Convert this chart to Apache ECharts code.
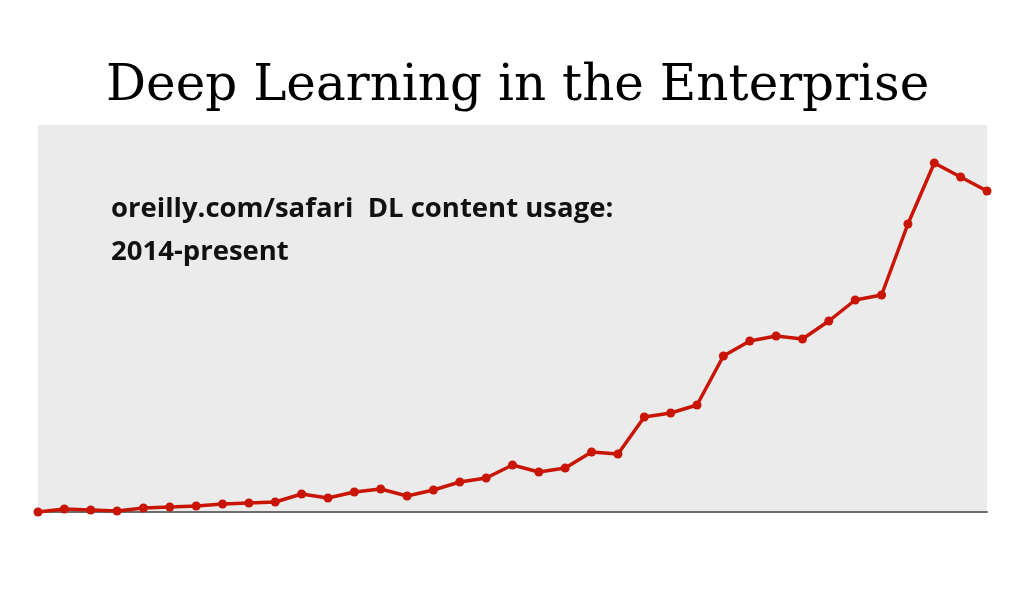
<!DOCTYPE html>
<html>
<head>
<meta charset="utf-8">
<script src="https://cdn.jsdelivr.net/npm/echarts@6/dist/echarts.min.js"></script>
<style>html,body{margin:0;padding:0;background:#fff;}#c{width:1024px;height:592px;}</style>
</head>
<body>
<div id="c"></div>
<script>
const titleText = 'Deep Learning in the Enterprise';
const noteText = 'oreilly.com/safari  DL content usage:\n2014-present';
const months = [];
for (let y = 2014; y <= 2017; y++) {
  for (let m = 1; m <= 12; m++) {
    if (months.length < 37) months.push(y + '-' + String(m).padStart(2, '0'));
  }
}
const usage = [0, 3, 2, 1, 4, 5, 6, 8, 9, 10, 18, 14, 20, 23, 16, 22, 30, 34, 47, 40, 44, 60, 58, 95, 99, 107, 156, 171, 176, 173, 191, 212, 217, 288, 349, 335, 321];

const chart = echarts.init(document.getElementById('c'));
chart.setOption({
  backgroundColor: '#ffffff',
  animation: false,
  title: [{
    text: titleText,
    left: 106,
    top: 62,
    padding: 0,
    textStyle: { fontFamily: 'DejaVu Serif', fontSize: 50, fontWeight: 'normal', color: '#000' }
  }, {
    text: noteText,
    left: 111,
    top: 188,
    padding: 0,
    textStyle: { fontFamily: 'Open Sans', fontSize: 27.5, fontWeight: 'bold', color: '#111', lineHeight: 43 }
  }],
  grid: { left: 38, right: 37, top: 125, bottom: 80, show: true, backgroundColor: '#ebebeb', borderWidth: 0 },
  xAxis: {
    type: 'category',
    data: months,
    boundaryGap: false,
    axisLine: { show: true, lineStyle: { color: '#6e6e6e', width: 2 } },
    axisTick: { show: false },
    axisLabel: { show: false },
    splitLine: { show: false }
  },
  yAxis: {
    type: 'value',
    min: 0,
    max: 387,
    show: false,
    splitLine: { show: false }
  },
  series: [{
    type: 'line',
    data: usage,
    clip: false,
    symbol: 'circle',
    symbolSize: 9,
    z: 5,
    lineStyle: { color: '#c81505', width: 3.5 },
    itemStyle: { color: '#c81505' }
  }]
});
</script>
</body>
</html>
